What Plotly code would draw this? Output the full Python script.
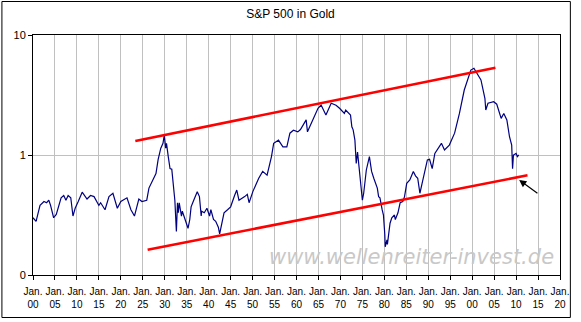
import plotly.graph_objects as go
import numpy as np

# S&P 500 priced in gold (ratio)
years = [1900.0, 1900.7, 1901.6, 1902.5, 1903.1, 1903.6, 1904.0, 1904.7, 1905.3, 1906.4,
         1907.0, 1907.5, 1908.0, 1908.6, 1909.1, 1909.6, 1910.3, 1911.2, 1912.3, 1913.1,
         1913.9, 1915.0, 1915.4, 1916.4, 1917.3, 1918.2, 1919.2, 1920.0, 1921.4, 1922.3,
         1923.1, 1924.1, 1924.8, 1925.9, 1926.4, 1927.2, 1928.0,
         1928.5, 1929.1, 1929.6, 1929.9, 1930.2, 1930.4, 1930.8, 1931.2, 1931.6, 1931.9,
         1932.3, 1932.65, 1932.9, 1933.1, 1933.3, 1933.8, 1934.0, 1934.5, 1934.9, 1935.3,
         1935.7, 1936.0, 1936.6, 1937.4, 1937.9, 1938.3, 1938.4, 1939.0, 1939.6, 1940.2,
         1940.5, 1941.1, 1941.6, 1942.2, 1942.5, 1942.9, 1943.5, 1944.3, 1945.0, 1945.9,
         1946.4, 1946.9, 1947.6, 1948.2, 1948.8,
         1949.2, 1950.1, 1951.4, 1952.3, 1953.3, 1954.3, 1954.8, 1955.9, 1956.9, 1957.8,
         1958.5, 1959.3, 1960.3, 1960.9, 1962.2, 1962.5, 1963.7, 1964.9, 1965.6, 1966.7,
         1967.9, 1969.0, 1969.8, 1970.9,
         1971.2, 1972.0, 1972.3, 1972.6, 1972.9, 1973.3, 1973.6, 1973.9, 1974.2, 1974.6,
         1975.0, 1975.3, 1975.9, 1976.6, 1977.1, 1977.6, 1978.4, 1978.7, 1979.0, 1979.5,
         1979.8, 1980.1, 1980.2, 1980.6, 1980.7, 1981.3, 1981.7, 1982.3, 1982.5, 1983.1,
         1983.6, 1984.2, 1984.6, 1985.1, 1985.8, 1986.6, 1987.1, 1987.6, 1988.1, 1988.6,
         1989.2, 1989.8, 1990.3, 1990.9, 1991.5,
         1993.0, 1993.7, 1994.8, 1996.0, 1997.1, 1998.2,
         1999.1, 1999.7, 2000.4, 2001.0, 2002.0, 2002.9, 2003.1, 2003.6, 2004.9, 2005.6,
         2006.6, 2007.2, 2007.9, 2008.5, 2009.0, 2009.2, 2009.4, 2010.0, 2010.3, 2010.6]
ratio = [0.30, 0.28, 0.38, 0.41, 0.40, 0.42, 0.38, 0.30, 0.32, 0.44,
         0.46, 0.42, 0.46, 0.44, 0.31, 0.36, 0.41, 0.49, 0.43, 0.46,
         0.45, 0.38, 0.40, 0.35, 0.45, 0.48, 0.36, 0.41, 0.44, 0.35,
         0.31, 0.43, 0.41, 0.42, 0.53, 0.60, 0.70,
         0.92, 1.14, 1.25, 1.47, 1.14, 1.25, 0.97, 0.77, 0.76, 0.60,
         0.42, 0.23, 0.40, 0.33, 0.40, 0.31, 0.34, 0.30, 0.27, 0.245,
         0.29, 0.37, 0.42, 0.495, 0.45, 0.31, 0.34, 0.33, 0.36, 0.31,
         0.35, 0.29, 0.28, 0.25, 0.22, 0.26, 0.33, 0.35, 0.37, 0.46,
         0.51, 0.42, 0.435, 0.45, 0.47,
         0.40, 0.50, 0.64, 0.73, 0.68, 0.97, 1.25, 1.33, 1.17, 1.17,
         1.52, 1.61, 1.56, 1.63, 1.96, 1.56, 1.96, 2.45, 2.61, 2.15,
         2.70, 2.60, 2.45, 2.22,
         2.37, 2.22, 2.15, 1.72, 1.62, 1.33, 0.85, 1.06, 0.80, 0.53,
         0.42, 0.48, 0.75, 0.97, 0.73, 0.64, 0.53, 0.45, 0.44, 0.35,
         0.316, 0.22, 0.172, 0.196, 0.18, 0.27, 0.30, 0.316, 0.29, 0.33,
         0.40, 0.41, 0.45, 0.58, 0.62, 0.73, 0.67, 0.64, 0.48, 0.58,
         0.73, 0.91, 0.92, 0.77, 1.03,
         1.25, 1.10, 1.21, 1.52, 2.22, 3.48,
         4.49, 5.10, 5.28, 4.90, 4.22, 2.97, 2.37, 2.70, 2.78, 2.65,
         2.02, 2.22, 1.96, 1.42, 1.21, 0.77, 1.00, 1.03, 0.97, 1.00]

# trend channel lines (start/end)
upper_x = [1923.3, 2005.3]
upper_y = [1.31, 5.34]
lower_x = [1926.1, 2012.6]
lower_y = [0.1625, 0.677]

# arrow: tip and tail
arrow_tip = (2010.7, 0.619)
arrow_tail = (2015.2, 0.47)

tick_years = list(range(1900, 2021, 5))
tick_labels = ["Jan.<br>%02d" % (y % 100) for y in tick_years]
y_tickvals = [0.1, 1, 10]
y_ticktext = ["0", "1", "10"]

title_text = "S&P 500 in Gold"
watermark = "www.wellenreiter-invest.de"

FONT = "Liberation Sans, Arial, sans-serif"

fig = go.Figure()
fig.add_trace(go.Scatter(x=years, y=ratio, mode="lines",
                         line=dict(color="#000080", width=1.2), hoverinfo="skip"))
fig.add_trace(go.Scatter(x=upper_x, y=upper_y, mode="lines",
                         line=dict(color="#ff0000", width=2.5), hoverinfo="skip"))
fig.add_trace(go.Scatter(x=lower_x, y=lower_y, mode="lines",
                         line=dict(color="#ff0000", width=2.5), hoverinfo="skip"))

fig.add_annotation(x=arrow_tip[0], y=np.log10(arrow_tip[1]),
                   ax=arrow_tail[0], ay=np.log10(arrow_tail[1]),
                   xref="x", yref="y", axref="x", ayref="y",
                   showarrow=True, arrowhead=2, arrowsize=1.2, arrowwidth=1.2,
                   arrowcolor="#000000", text="")

fig.add_annotation(x=(417 - 33) / 534, y=(275 - 257) / 240, xref="paper", yref="paper",
                   text="<i>" + watermark + "</i>", showarrow=False,
                   font=dict(family="DejaVu Sans", size=21, color="#c8c8c8"),
                   xanchor="center", yanchor="middle")

fig.add_shape(type="rect", xref="paper", yref="paper",
              x0=(1.5 - 33) / 534, x1=(577.5 - 33) / 534,
              y0=(275 - 317.5) / 240, y1=(275 - 1.5) / 240,
              line=dict(color="#000000", width=1), fillcolor="rgba(0,0,0,0)", layer="below")

fig.update_layout(
    width=581, height=322,
    margin=dict(l=33, r=14, t=35, b=47),
    paper_bgcolor="white", plot_bgcolor="white",
    showlegend=False,
    title=dict(text=title_text, x=0.5, xref="container", xanchor="center",
               y=1 - 14 / 322, yref="container", yanchor="middle",
               font=dict(family=FONT, size=12, color="#000000")),
    font=dict(family=FONT, size=10, color="#000000"),
)
fig.update_xaxes(range=[1900, 2020], tickvals=tick_years, ticktext=tick_labels,
                 showgrid=True, gridcolor="#c0c0c0", gridwidth=1,
                 showline=True, linecolor="#000000", linewidth=1, mirror=True,
                 ticks="outside", ticklen=4, tickcolor="#000000", tickangle=0,
                 ticklabelstandoff=3,
                 zeroline=False, tickfont=dict(family=FONT, size=10, color="#000000"))
fig.update_yaxes(type="log", range=[-1, 1], tickvals=y_tickvals, ticktext=y_ticktext,
                 showgrid=True, gridcolor="#c0c0c0", gridwidth=1,
                 showline=True, linecolor="#000000", linewidth=1, mirror=True,
                 ticks="outside", ticklen=4, tickcolor="#000000",
                 zeroline=False, tickfont=dict(family=FONT, size=11, color="#000000"))

fig.write_html("out.html")
